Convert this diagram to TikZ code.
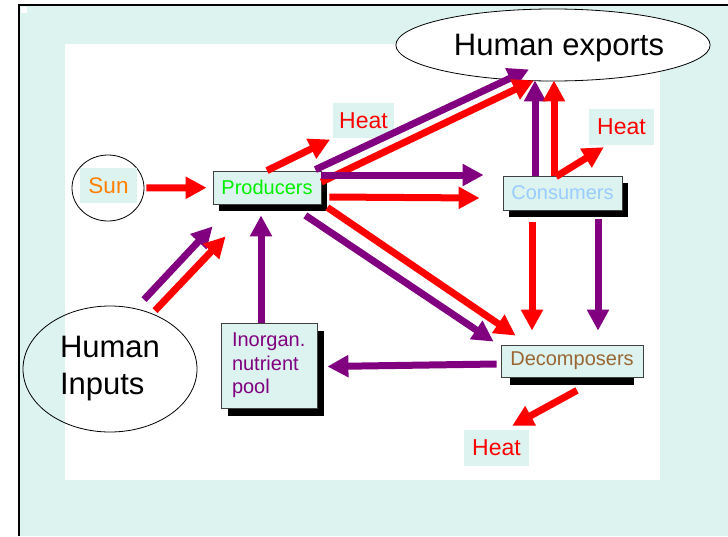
\documentclass[tikz,border=0pt]{standalone}
\usepackage{fontspec}
\setmainfont{Liberation Sans}
\usetikzlibrary{shapes.geometric,shadows,arrows.meta}
\definecolor{paleteal}{RGB}{221,243,239}
\definecolor{plum}{RGB}{128,0,128}
\definecolor{sunorange}{RGB}{255,128,0}
\definecolor{prodgreen}{RGB}{0,240,0}
\definecolor{conscyan}{RGB}{153,204,255}
\definecolor{decbrown}{RGB}{153,102,51}
\begin{document}
\begin{tikzpicture}[x=1pt,y=-1pt,
        box/.style={rectangle,draw=black!75,fill=paleteal,line width=0.8pt,
          inner sep=0pt,font=\fontsize{20}{24}\selectfont},
        heatbox/.style={rectangle,fill=paleteal,text=red,inner sep=0pt,
          minimum width=63pt,minimum height=36pt,font=\fontsize{23}{27}\selectfont},
        oval/.style={ellipse,draw=black,line width=0.8pt,inner sep=0pt},
        redarr/.style={draw=red,line width=7pt,-{Triangle[length=21pt,width=21pt]}},
        purplearr/.style={draw=plum,line width=7pt,-{Triangle[length=21pt,width=21pt]}}]
      \useasboundingbox (0,0) rectangle (728,536);
      % slide background
      \fill[paleteal] (18,4) rectangle (728,536);
      \draw[line width=2pt] (728,4.5) -| (18.5,536);
      \fill[white] (21,7) rectangle (27,13);
      \fill[white] (65,44) rectangle (660,480);
      % nodes
      \node (sun) at (108,188) [oval,minimum width=72pt,minimum height=66pt] {};
      \node (sunlbl) at (108.5,185.5) [heatbox,text=sunorange,minimum width=57pt,
        minimum height=35pt,font=\fontsize{22.5}{27}\selectfont] {Sun};
      \node (prod) at (267,187.5) [box,minimum width=108pt,minimum height=33pt,text=prodgreen,
        general shadow={fill=black,shadow xshift=6pt,shadow yshift=-7pt}] {Producers};
      \node (cons) at (562.5,193) [box,minimum width=119pt,minimum height=34pt,text=conscyan,
        general shadow={fill=black,shadow xshift=6pt,shadow yshift=-7pt}] {Consumers};
      \node (dec) at (572,361) [box,minimum width=142pt,minimum height=32pt,text=decbrown,
        general shadow={fill=black,shadow scale=.87,shadow yshift=-12pt}] {Decomposers};
      \node (inorg) at (269,365.5) [box,minimum width=96pt,minimum height=85pt,text=plum,
        inner xsep=11pt,text width=74pt,align=left,font=\fontsize{20}{23.5}\selectfont,
        general shadow={fill=black,shadow xshift=6.5pt,shadow yshift=-7.5pt}]
        {Inorgan.\\nutrient\\pool};
      \node (exports) at (553,45) [oval,fill=white,minimum width=274pt,minimum height=72pt,
        text depth=0pt,font=\fontsize{31}{37}\selectfont] {\hspace{12pt}Human exports};
      \node (inputs) at (110,369) [oval,minimum width=174pt,minimum height=126pt,align=left,
        font=\fontsize{31}{37}\selectfont] {Human\\Inputs};
      \node (heat1) at (363.5,120.5) [heatbox,minimum width=61pt,minimum height=35pt] {Heat};
      \node (heat2) at (621.5,127) [heatbox,minimum width=65pt] {Heat};
      \node (heat3) at (496.5,448) [heatbox,minimum width=65pt] {Heat};
      % energy and matter flows
      \draw (sun) edge[redarr,shorten <=2pt,shorten >=6pt] (prod);
      \draw (prod.north) edge[redarr,shorten >=3pt] (heat1.south west);
      \draw ([xshift=-6pt,yshift=1pt]prod.north east) edge[purplearr]
        ([xshift=-24pt,yshift=12pt]exports.south);
      \draw ([yshift=5.5pt]prod.east) edge[redarr] ([xshift=-19pt,yshift=1pt]exports.south);
      \draw ([yshift=12.5pt]prod.east) edge[purplearr] ([xshift=-19pt,yshift=18pt]cons.west);
      \draw ([xshift=8pt,yshift=-9.5pt]prod.east) edge[redarr] ([xshift=-23pt,yshift=-5pt]cons.west);
      \draw ([xshift=6pt,yshift=-3pt]prod.south east) edge[redarr] ([xshift=15pt,yshift=9pt]dec.north west);
      \draw ([xshift=-16pt,yshift=-11pt]prod.south east) edge[purplearr] ([xshift=-7pt,yshift=3pt]dec.north west);
      \draw ([xshift=-27.5pt]cons.north) edge[purplearr] ([xshift=-18pt,yshift=1pt]exports.south);
      \draw ([xshift=-8.5pt]cons.north) edge[redarr] ([xshift=1pt,yshift=1pt]exports.south);
      \draw ([xshift=-6.5pt,yshift=-1pt]cons.north) edge[redarr] ([xshift=15pt,yshift=-2pt]heat2.south west);
      \draw ([xshift=-30.5pt,yshift=-12pt]cons.south) edge[redarr] ([xshift=-40pt,yshift=14pt]dec.north);
      \draw ([xshift=35.5pt,yshift=-9pt]cons.south) edge[purplearr] ([xshift=26pt,yshift=14pt]dec.north);
      \draw ([xshift=-4pt,yshift=-3pt]dec.west) edge[purplearr] ([xshift=10pt,yshift=-1pt]inorg.east);
      \draw ([xshift=-8pt]inorg.north) edge[purplearr] ([xshift=-6pt,yshift=-11pt]prod.south);
      \draw ([xshift=5pt,yshift=-13pt]dec.south) edge[redarr] ([xshift=-17pt,yshift=4pt]heat3.north east);
      \draw ([xshift=34pt,yshift=6pt]inputs.north) edge[purplearr] ([yshift=-22pt]prod.south west);
      \draw ([xshift=45pt,yshift=-5pt]inputs.north) edge[redarr] ([xshift=13pt,yshift=-32pt]prod.south west);
\end{tikzpicture}
\end{document}
